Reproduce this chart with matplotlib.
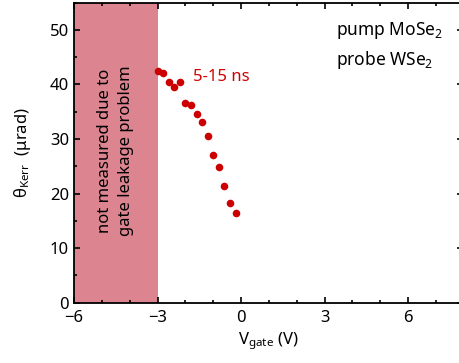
import matplotlib
matplotlib.use("Agg")
import matplotlib.pyplot as plt
from matplotlib.ticker import MultipleLocator

plt.rcParams['font.family'] = ['Noto Sans', 'DejaVu Sans']
plt.rcParams['mathtext.fontset'] = 'custom'
plt.rcParams['mathtext.rm'] = 'Noto Sans'
plt.rcParams['mathtext.it'] = 'Noto Sans'

v_gate = [-3.0, -2.8, -2.6, -2.4, -2.2, -2.0, -1.8, -1.6, -1.4, -1.2, -1.0, -0.8, -0.6, -0.4, -0.2]
theta_kerr = [42.5, 42.0, 40.4, 39.5, 40.4, 36.6, 36.3, 34.6, 33.1, 30.5, 27.0, 24.9, 21.3, 18.3, 16.5]
shade_range = [-6, -3]
xticks = [-6, -3, 0, 3, 6]
yticks = [0, 10, 20, 30, 40, 50]

fig = plt.figure(figsize=(4.59, 3.63), dpi=100)
ax = fig.add_axes([74/459, 1-302.7/363, (462.5-74)/459, (302.7-2.5)/363])

ax.axvspan(shade_range[0], shade_range[1], color='#dc8490', lw=0, zorder=0)
ax.scatter(v_gate, theta_kerr, s=30, color='#cc0000', zorder=3, lw=0)

ax.set_xlim(-6, 7.95)
ax.set_ylim(0, 55)
ax.set_xticks(xticks)
ax.set_yticks(yticks)
ax.xaxis.set_minor_locator(MultipleLocator(1))
ax.yaxis.set_minor_locator(MultipleLocator(5))
ax.tick_params(which='both', direction='in', top=True, right=True, labelsize=12, width=1.2, colors='black')
ax.tick_params(which='major', length=4.5)
ax.tick_params(which='minor', length=2.5)
ax.tick_params(axis='x', pad=5)
for s in ax.spines.values():
    s.set_linewidth(1.3)

ax.set_xlabel(r'V$_{\mathrm{gate}}$ (V)', fontsize=12, labelpad=3)
ax.set_ylabel(r'θ$_{\mathrm{Kerr}}$  (μrad)', fontsize=12, labelpad=12)

ax.text(-4.5, 27.9, 'not measured due to\ngate leakage problem', rotation=90,
        ha='center', va='center', fontsize=12, linespacing=1.4)
ax.text(-1.72, 41.3, '5-15 ns', color='#d00000', fontsize=12, ha='left', va='center')
ax.text(3.4, 49.9, r'pump MoSe$_2$', fontsize=12.5, ha='left', va='center')
ax.text(3.4, 44.4, r'probe WSe$_2$', fontsize=12.5, ha='left', va='center')

fig.savefig('out.png', dpi=100)
